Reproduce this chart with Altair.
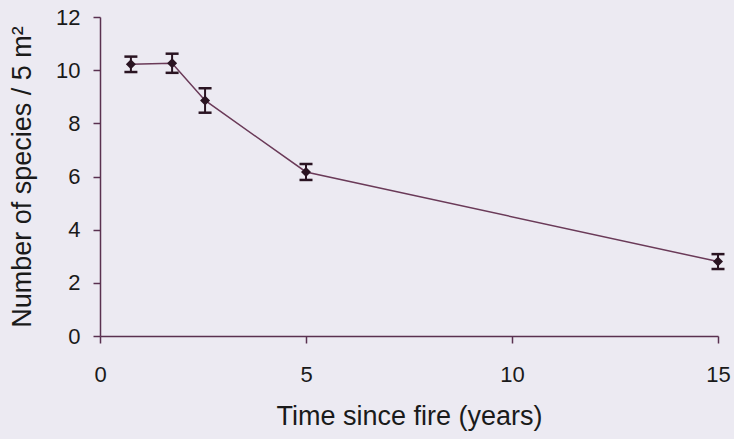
import altair as alt
import pandas as pd

# Mean species richness per 5 m² plot, with standard errors
years_since_fire = [0.75, 1.75, 2.55, 5, 15]
species_mean = [10.22, 10.26, 8.86, 6.17, 2.80]
species_se = [0.29, 0.36, 0.46, 0.30, 0.28]

df = pd.DataFrame({
    "time": years_since_fire,
    "mean": species_mean,
    "se": species_se,
})
df["lo"] = df["mean"] - df["se"]
df["hi"] = df["mean"] + df["se"]

FONT = "Liberation Sans"
AXIS_COL = "#5a3150"
LINE_COL = "#6a3a58"
MARK_COL = "#2a1422"

x_enc = alt.X(
    "time:Q",
    scale=alt.Scale(domain=[0, 15], nice=False, zero=False),
    axis=alt.Axis(
        values=[0, 5, 10, 15],
        title="Time since fire (years)",
        titlePadding=18,
        labelPadding=21,
        labelFlush=False,
    ),
)
y_scale = alt.Scale(domain=[0, 12], nice=False)
y_axis = alt.Axis(
    values=[0, 2, 4, 6, 8, 10, 12],
    title="Number of species / 5 m²",
    titlePadding=19,
    labelPadding=13,
    labelFlush=False,
)

base = alt.Chart(df)

line = base.mark_line(color=LINE_COL, strokeWidth=1.5).encode(
    x=x_enc,
    y=alt.Y("mean:Q", scale=y_scale, axis=y_axis),
)

points = base.mark_point(
    shape="diamond", filled=True, size=100, color=MARK_COL, opacity=1
).encode(x="time:Q", y="mean:Q")

bars = base.mark_rule(color=MARK_COL, strokeWidth=2).encode(
    x="time:Q", y="lo:Q", y2="hi:Q"
)

cap_lo = base.mark_tick(
    orient="horizontal", color=MARK_COL, size=13, thickness=2.5, opacity=1
).encode(x="time:Q", y="lo:Q")

cap_hi = base.mark_tick(
    orient="horizontal", color=MARK_COL, size=13, thickness=2.5, opacity=1
).encode(x="time:Q", y="hi:Q")

chart = (
    alt.layer(line, bars, cap_lo, cap_hi, points)
    .properties(
        width=618,
        height=319,
        background="#eceaf2",
        autosize=alt.AutoSizeParams(type="none"),
        padding={"left": 100, "top": 17, "right": 16, "bottom": 103},
    )
    .configure_view(stroke=None)
    .configure_axis(
        grid=False,
        domainColor=AXIS_COL,
        domainWidth=1.5,
        tickColor=AXIS_COL,
        tickWidth=1.5,
        tickSize=7,
        labelFont=FONT,
        labelFontSize=22,
        labelColor="#1a1a1a",
        titleFont=FONT,
        titleFontSize=27,
        titleFontWeight="normal",
        titleColor="#1a1a1a",
    )
)

chart.save("out.html", embed_options={"renderer": "svg", "actions": False})
